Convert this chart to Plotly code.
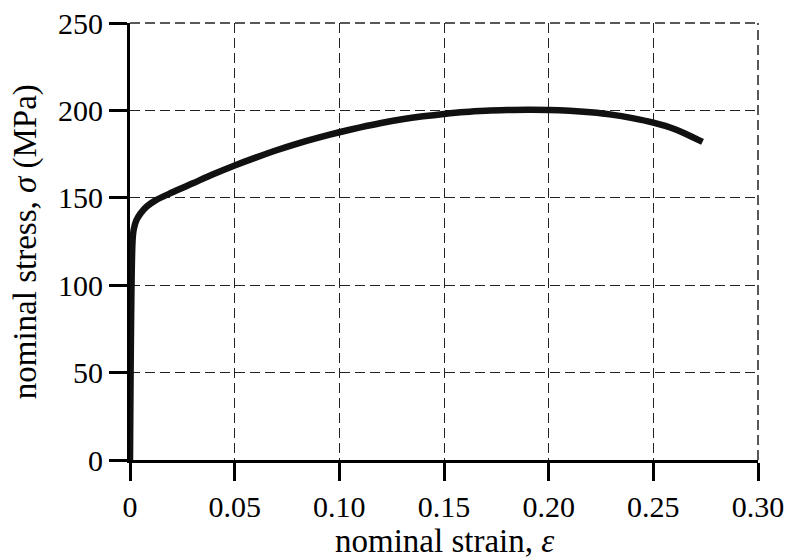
import plotly.graph_objects as go

# Data
strain = [0, 0.0012, 0.0018, 0.003, 0.005, 0.008, 0.012, 0.02, 0.03, 0.04,
          0.05, 0.06, 0.07, 0.08, 0.09, 0.10, 0.11, 0.12, 0.13, 0.14,
          0.15, 0.16, 0.17, 0.18, 0.19, 0.20, 0.21, 0.22, 0.23, 0.24,
          0.25, 0.26, 0.2735]
stress = [0, 125, 132, 137, 141, 145, 148.4, 153, 158.3, 163.6,
          168.5, 173, 177.2, 181, 184.4, 187.5, 190.3, 192.8, 194.9, 196.6,
          198.0, 199.1, 199.8, 200.2, 200.4, 200.3, 199.8, 198.9, 197.6, 195.6,
          193.0, 189.4, 182.0]

x_ticks = [0, 0.05, 0.10, 0.15, 0.20, 0.25, 0.30]
x_tick_labels = ["0", "0.05", "0.10", "0.15", "0.20", "0.25", "0.30"]
y_ticks = [0, 50, 100, 150, 200, 250]
y_tick_labels = ["0", "50", "100", "150", "200", "250"]

FONT = "Liberation Serif, Times New Roman, serif"

fig = go.Figure()
fig.add_trace(go.Scatter(
    x=strain, y=stress, mode="lines",
    line=dict(color="#111111", width=6.5, shape="spline", smoothing=0.8),
    hoverinfo="skip", showlegend=False,
))

axis_common = dict(
    showline=True, linecolor="black", linewidth=3,
    ticks="outside", ticklen=18, tickwidth=3, tickcolor="black",
    showgrid=True, gridcolor="#222222", gridwidth=1, griddash="10px,5px",
    zeroline=False, automargin=False,
    tickfont=dict(family=FONT, size=30, color="black"),
)

fig.update_xaxes(range=[0, 0.30], tickvals=x_ticks, ticktext=x_tick_labels,
                 **axis_common)
fig.update_yaxes(range=[0, 250], tickvals=y_ticks, ticktext=y_tick_labels,
                 **axis_common)

# dashed top and right borders
fig.add_shape(type="line", xref="paper", yref="paper", x0=0, x1=1, y0=1, y1=1,
              line=dict(color="#222222", width=1.5, dash="10px,5px"))
fig.add_shape(type="line", xref="paper", yref="paper", x0=1, x1=1, y0=0, y1=1,
              line=dict(color="#222222", width=1.5, dash="10px,5px"))

fig.add_annotation(text="nominal strain, <i>ε</i>", xref="paper", yref="paper",
                   x=0.5, y=-0.185, xanchor="center", yanchor="middle",
                   showarrow=False, font=dict(family=FONT, size=33, color="black"))
fig.add_annotation(text="nominal stress, <i>σ</i> (MPa)", xref="paper", yref="paper",
                   x=-0.166, y=0.5, xanchor="center", yanchor="middle",
                   textangle=-90, showarrow=False,
                   font=dict(family=FONT, size=33, color="black"))

fig.update_layout(
    width=790, height=560,
    margin=dict(l=130, r=32, t=23, b=100),
    paper_bgcolor="white", plot_bgcolor="white",
    font=dict(family=FONT, color="black"),
)

fig.write_html("out.html", config={"displayModeBar": False},
               post_script="document.body.style.margin='0';document.body.style.overflow='hidden';")
